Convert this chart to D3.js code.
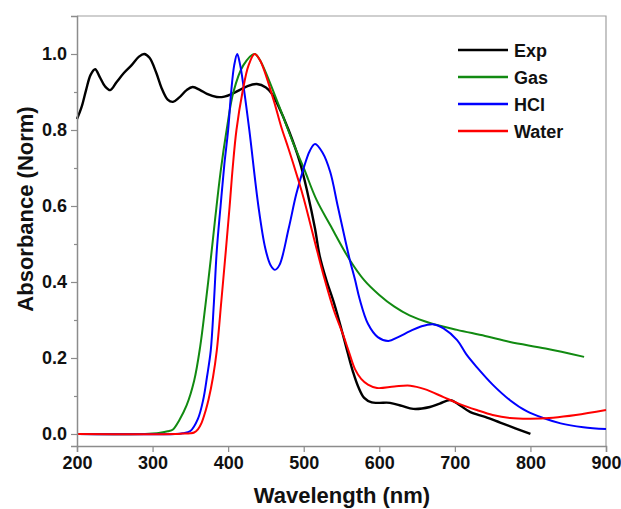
<!DOCTYPE html>
<html>
<head>
<meta charset="utf-8">
<title>Absorbance spectra</title>
<style>
  body { margin: 0; background: #fff; }
  text { font-family: "Liberation Sans", Arial, sans-serif; font-weight: bold; fill: #111; }
</style>
</head>
<body>
<div id="chart"></div>
<script src="https://d3js.org/d3.v7.min.js"></script>
<script>
(function(d3) {
  'use strict';

  // wavelength (nm) / normalised absorbance
  var expWl  = [200,206,212,218,224,230,237,244,252,262,272,282,289,296,305,312,320,327,335,345,353,363,372,385,395,405,415,425,438,450,458,466,480,495,505,515,521,530,540,550,558,565,572,580,590,600,614,630,645,667,680,694,707,720,740,760,780,800];
  var expAbs = [0.829,0.86,0.905,0.945,0.96,0.94,0.915,0.905,0.925,0.95,0.97,0.993,1.0,0.99,0.95,0.91,0.88,0.874,0.885,0.905,0.913,0.905,0.895,0.887,0.888,0.895,0.905,0.915,0.921,0.912,0.895,0.865,0.80,0.715,0.635,0.54,0.47,0.405,0.345,0.275,0.215,0.165,0.125,0.095,0.083,0.082,0.082,0.074,0.066,0.071,0.08,0.089,0.075,0.058,0.045,0.03,0.015,0.0];

  var gasWl  = [200,290,300,310,320,327,335,345,355,363,370,377,383,390,398,407,420,435,442,466,486,500,517,535,561,580,600,620,640,667,703,740,773,820,871];
  var gasAbs = [0,0,0.001,0.003,0.007,0.012,0.035,0.075,0.14,0.23,0.34,0.46,0.57,0.69,0.8,0.9,0.97,1.0,0.984,0.87,0.766,0.70,0.616,0.55,0.458,0.405,0.366,0.335,0.312,0.292,0.274,0.258,0.242,0.225,0.203];

  var hclWl  = [200,330,340,350,360,367,372,377,381,385,390,395,400,404,408,412,416,420,428,440,449,456,462,468,480,490,500,508,515,525,535,545,555,561,568,574,585,598,612,625,640,655,671,685,703,715,729,750,773,795,817,840,870,900];
  var hclAbs = [0,0,0.002,0.008,0.04,0.09,0.15,0.22,0.34,0.484,0.6,0.71,0.8,0.9,0.97,1.0,0.97,0.92,0.8,0.6,0.49,0.445,0.432,0.445,0.54,0.63,0.70,0.745,0.763,0.74,0.69,0.6,0.51,0.458,0.405,0.355,0.29,0.255,0.245,0.255,0.27,0.283,0.289,0.278,0.247,0.21,0.176,0.13,0.089,0.06,0.042,0.028,0.018,0.013];

  var waterWl  = [200,330,340,350,355,360,365,370,374,380,385,391,397,402,406,411,419,427,435,442,460,470,480,492,500,518,528,540,552,560,568,576,585,597,620,641,660,685,705,729,750,773,800,830,860,900];
  var waterAbs = [0,0,0.001,0.002,0.004,0.012,0.03,0.06,0.09,0.15,0.22,0.35,0.484,0.6,0.7,0.8,0.9,0.97,1.0,0.984,0.88,0.81,0.75,0.674,0.62,0.48,0.405,0.325,0.262,0.215,0.17,0.145,0.13,0.121,0.125,0.127,0.118,0.097,0.08,0.063,0.05,0.042,0.04,0.043,0.05,0.063];

  var seriesNames = ['Exp', 'Gas', 'HCl', 'Water'];
  var seriesColors = ['#000000', '#118a11', '#0000ff', '#ff0000'];
  var xTicks = [200, 300, 400, 500, 600, 700, 800, 900];
  var yTicks = [0.0, 0.2, 0.4, 0.6, 0.8, 1.0];
  var yMinorTicks = [0.1, 0.3, 0.5, 0.7, 0.9];

  var series = [
    { name: seriesNames[0], color: seriesColors[0], wl: expWl, abs: expAbs },
    { name: seriesNames[1], color: seriesColors[1], wl: gasWl, abs: gasAbs },
    { name: seriesNames[2], color: seriesColors[2], wl: hclWl, abs: hclAbs },
    { name: seriesNames[3], color: seriesColors[3], wl: waterWl, abs: waterAbs }
  ];

  var width = 621, height = 509;
  var left = 77, right = 606, top = 16, bottom = 446;
  var axisColor = '#8c8c8c';

  var x = d3.scaleLinear().domain([200, 900]).range([left, right]);
  var y = d3.scaleLinear().domain([-0.0316, 1.1]).range([bottom, top]);

  var svg = d3.select('#chart').append('svg')
    .attr('width', width)
    .attr('height', height);

  // frame (top and right)
  svg.append('path')
    .attr('d', 'M' + left + ',' + top + 'H' + right + 'V' + bottom)
    .attr('fill', 'none')
    .attr('stroke', '#a0a0a0')
    .attr('stroke-width', 1.2);

  var line = d3.line()
    .x(function(d) { return x(d[0]); })
    .y(function(d) { return y(d[1]); })
    .curve(d3.curveCatmullRom.alpha(0.5));

  var g = svg.append('g');
  series.forEach(function(s) {
    g.append('path')
      .datum(s.wl.map(function(w, i) { return [w, s.abs[i]]; }))
      .attr('fill', 'none')
      .attr('stroke', s.color)
      .attr('stroke-width', s.name === 'Exp' ? 2.4 : 2)
      .attr('stroke-linejoin', 'round')
      .attr('d', line);
  });

  // x axis
  var xAxis = svg.append('g')
    .attr('transform', 'translate(0,' + bottom + ')')
    .call(d3.axisBottom(x).tickValues(xTicks).tickSize(6).tickPadding(4).tickFormat(d3.format('d')));
  xAxis.select('.domain').attr('stroke', axisColor).attr('stroke-width', 1.5);
  xAxis.selectAll('.tick line').attr('stroke', axisColor).attr('stroke-width', 1.2);
  xAxis.selectAll('text').attr('font-size', 18).attr('fill', '#111')
    .attr('font-family', '"Liberation Sans", Arial, sans-serif').attr('font-weight', 'bold');

  // y axis
  var yAxis = svg.append('g')
    .attr('transform', 'translate(' + left + ',0)')
    .call(d3.axisLeft(y).tickValues(yTicks).tickSize(6).tickPadding(4).tickFormat(d3.format('.1f')));
  yAxis.select('.domain').attr('stroke', axisColor).attr('stroke-width', 1.5);
  yAxis.selectAll('.tick line').attr('stroke', axisColor).attr('stroke-width', 1.2);
  yAxis.selectAll('text').attr('font-size', 18).attr('fill', '#111')
    .attr('font-family', '"Liberation Sans", Arial, sans-serif').attr('font-weight', 'bold');

  var yMinor = svg.append('g')
    .attr('transform', 'translate(' + left + ',0)')
    .call(d3.axisLeft(y).tickValues(yMinorTicks).tickSize(3).tickFormat(''));
  yMinor.select('.domain').remove();
  yMinor.selectAll('.tick line').attr('stroke', axisColor).attr('stroke-width', 1.2);

  // axis titles
  svg.append('text')
    .attr('x', 342)
    .attr('y', 503)
    .attr('text-anchor', 'middle')
    .attr('font-size', 22)
    .text('Wavelength (nm)');

  svg.append('text')
    .attr('transform', 'translate(33,209) rotate(-90)')
    .attr('text-anchor', 'middle')
    .attr('font-size', 22)
    .text('Absorbance (Norm)');

  // legend
  var legend = svg.append('g').attr('transform', 'translate(458,50)');
  series.forEach(function(s, i) {
    var row = legend.append('g').attr('transform', 'translate(0,' + (i * 27) + ')');
    row.append('line')
      .attr('x1', 0).attr('x2', 50)
      .attr('stroke', s.color)
      .attr('stroke-width', 2.4);
    row.append('text')
      .attr('x', 56)
      .attr('y', 7)
      .attr('font-size', 18)
      .text(s.name);
  });

})(window.d3);
</script>
</body>
</html>
